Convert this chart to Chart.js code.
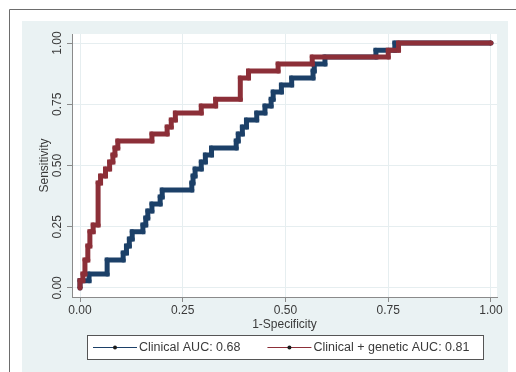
<!DOCTYPE html>
<html>
<head>
<meta charset="utf-8">
<script src="https://cdn.jsdelivr.net/npm/chart.js@4.4.1/dist/chart.umd.min.js"></script>
<style>
  html, body { margin: 0; padding: 0; background: #fff; }
  #wrap { width: 516px; height: 372px; }
</style>
</head>
<body>
<div id="wrap"><canvas id="rocChart" width="516" height="372"></canvas></div>
<script>
// ==============================
// ROC data
// ==============================
const seriesLabels = ["Clinical AUC: 0.68", "Clinical + genetic AUC: 0.81"];
const tickValues = [0, 0.25, 0.5, 0.75, 1];
const xTitle = "1-Specificity";
const yTitle = "Sensitivity";

const fprClinical = [0, 0, 0.022, 0.022, 0.066, 0.066, 0.105, 0.105, 0.113, 0.113, 0.12, 0.12,
    0.127, 0.127, 0.153, 0.153, 0.16, 0.16, 0.165, 0.165, 0.175, 0.175, 0.195, 0.195, 0.2, 0.2,
    0.272, 0.272, 0.275, 0.275, 0.28, 0.28, 0.295, 0.295, 0.305, 0.305, 0.32, 0.32, 0.38, 0.38,
    0.385, 0.385, 0.395, 0.395, 0.405, 0.405, 0.43, 0.43, 0.45, 0.45, 0.465, 0.465, 0.47, 0.47,
    0.49, 0.49, 0.515, 0.515, 0.567, 0.567, 0.57, 0.57, 0.596, 0.596, 0.72, 0.72, 0.766, 0.766, 1];
const sensClinical = [0, 0.029, 0.029, 0.057, 0.057, 0.114, 0.114, 0.143, 0.143, 0.171, 0.171, 0.2,
    0.2, 0.229, 0.229, 0.257, 0.257, 0.286, 0.286, 0.314, 0.314, 0.343, 0.343, 0.371, 0.371, 0.4,
    0.4, 0.429, 0.429, 0.457, 0.457, 0.486, 0.486, 0.514, 0.514, 0.543, 0.543, 0.571, 0.571, 0.6,
    0.6, 0.629, 0.629, 0.657, 0.657, 0.686, 0.686, 0.714, 0.714, 0.743, 0.743, 0.771, 0.771, 0.8,
    0.8, 0.829, 0.829, 0.857, 0.857, 0.886, 0.886, 0.914, 0.914, 0.943, 0.943, 0.971, 0.971, 1, 1];

const fprGenetic = [0, 0, 0.007, 0.007, 0.012, 0.012, 0.019, 0.019, 0.024, 0.024, 0.032, 0.032,
    0.044, 0.044, 0.05, 0.05, 0.062, 0.062, 0.072, 0.072, 0.08, 0.08, 0.085, 0.085, 0.092, 0.092,
    0.175, 0.175, 0.212, 0.212, 0.222, 0.222, 0.232, 0.232, 0.295, 0.295, 0.33, 0.33, 0.39, 0.39,
    0.41, 0.41, 0.482, 0.482, 0.565, 0.565, 0.75, 0.75, 0.775, 0.775, 1];
const sensGenetic = [0, 0.029, 0.029, 0.057, 0.057, 0.114, 0.114, 0.171, 0.171, 0.229, 0.229, 0.257,
    0.257, 0.429, 0.429, 0.457, 0.457, 0.486, 0.486, 0.514, 0.514, 0.543, 0.543, 0.571, 0.571, 0.6,
    0.6, 0.629, 0.629, 0.657, 0.657, 0.686, 0.686, 0.714, 0.714, 0.743, 0.743, 0.771, 0.771, 0.857,
    0.857, 0.886, 0.886, 0.914, 0.914, 0.943, 0.943, 0.971, 0.971, 1, 1];

const NAVY = "#1c4068";
const MAROON = "#8c2f38";
const FONT = "'Liberation Sans', Arial, sans-serif";

function toPoints(xs, ys) {
    return xs.map((x, i) => ({ x: x, y: ys[i] }));
}

// ==============================
// Background: frame, grey-blue panel, white plot area
// ==============================
const backgroundPlugin = {
    id: "stataBackground",
    beforeDraw(chart) {
        const ctx = chart.ctx;
        const area = chart.chartArea;
        ctx.save();
        ctx.fillStyle = "#ffffff";
        ctx.fillRect(0, 0, chart.width, chart.height);
        ctx.fillStyle = "#eaf2f3";
        ctx.fillRect(22, 21, 486, chart.height - 21);
        ctx.fillStyle = "#ffffff";
        ctx.fillRect(area.left, area.top, area.right - area.left, area.bottom - area.top);
        ctx.strokeStyle = "#6d6d6d";
        ctx.lineWidth = 1;
        ctx.beginPath();
        ctx.moveTo(9.5, chart.height);
        ctx.lineTo(9.5, 9.5);
        ctx.lineTo(chart.width, 9.5);
        ctx.stroke();
        ctx.restore();
    }
};

// ==============================
// Legend box: line - dot - line samples
// ==============================
const legendPlugin = {
    id: "stataLegend",
    afterDraw(chart) {
        const ctx = chart.ctx;
        const boxLeft = 87, boxTop = 335, boxW = 396, boxH = 24;
        const midY = boxTop + boxH / 2 + 0.5;
        ctx.save();
        ctx.fillStyle = "#ffffff";
        ctx.fillRect(boxLeft, boxTop, boxW, boxH);
        ctx.strokeStyle = "#555";
        ctx.lineWidth = 1;
        ctx.strokeRect(boxLeft + 0.5, boxTop + 0.5, boxW, boxH);

        ctx.font = "12.5px " + FONT;
        ctx.textBaseline = "middle";
        ctx.textAlign = "left";
        let x = 93;
        chart.data.datasets.forEach(ds => {
            ctx.strokeStyle = ds.borderColor;
            ctx.lineWidth = 1;
            ctx.beginPath();
            ctx.moveTo(x, midY);
            ctx.lineTo(x + 44, midY);
            ctx.stroke();
            ctx.fillStyle = "#1b1b1b";
            ctx.beginPath();
            ctx.arc(x + 22, midY, 2, 0, Math.PI * 2);
            ctx.fill();
            ctx.fillStyle = "#3a3a3a";
            ctx.fillText(ds.label, x + 46, midY);
            x += 46 + ctx.measureText(ds.label).width + 27;
        });
        ctx.restore();
    }
};

const chartCanvas = document.getElementById("rocChart");

new Chart(chartCanvas, {
    type: "scatter",
    data: {
        datasets: [
            {
                label: seriesLabels[0],
                data: toPoints(fprClinical, sensClinical),
                showLine: true,
                borderColor: NAVY,
                backgroundColor: NAVY,
                borderWidth: 5,
                pointRadius: 2.5,
                pointBorderColor: NAVY,
                pointBorderWidth: 0,
                order: 2
            },
            {
                label: seriesLabels[1],
                data: toPoints(fprGenetic, sensGenetic),
                showLine: true,
                borderColor: MAROON,
                backgroundColor: MAROON,
                borderWidth: 5,
                pointRadius: 2.5,
                pointBorderColor: MAROON,
                pointBorderWidth: 0,
                order: 1
            }
        ]
    },
    options: {
        responsive: false,
        animation: false,
        layout: {
            padding: { left: 0, right: 19, top: 34, bottom: 39 }
        },
        plugins: {
            legend: { display: false },
            tooltip: { enabled: false }
        },
        scales: {
            x: {
                type: "linear",
                min: -0.0195,
                max: 1.0146,
                afterBuildTicks: scale => {
                    scale.ticks = tickValues.map(v => ({ value: v }));
                },
                afterFit: scale => { scale.height = 36; },
                ticks: {
                    padding: 1,
                    color: "#3a3a3a",
                    font: { family: FONT, size: 12 },
                    callback: v => Number(v).toFixed(2)
                },
                grid: {
                    color: "#e6eef0",
                    tickColor: "#8a8a8a",
                    tickLength: 5
                },
                border: { display: true, color: "#8a8a8a" },
                title: {
                    display: true,
                    text: xTitle,
                    color: "#3a3a3a",
                    font: { family: FONT, size: 12 },
                    padding: { top: 0, bottom: 1 }
                }
            },
            y: {
                type: "linear",
                min: -0.037,
                max: 1.037,
                afterBuildTicks: scale => {
                    scale.ticks = tickValues.map(v => ({ value: v }));
                },
                afterFit: scale => { scale.width = 72; },
                ticks: {
                    minRotation: 90,
                    maxRotation: 90,
                    crossAlign: "center",
                    padding: -2,
                    color: "#3a3a3a",
                    font: { family: FONT, size: 12 },
                    callback: v => Number(v).toFixed(2)
                },
                grid: {
                    color: "#e6eef0",
                    tickColor: "#8a8a8a",
                    tickLength: 5
                },
                border: { display: true, color: "#8a8a8a" },
                title: {
                    display: true,
                    text: yTitle,
                    color: "#3a3a3a",
                    font: { family: FONT, size: 12 },
                    padding: { top: 37, bottom: 0 }
                }
            }
        }
    },
    plugins: [backgroundPlugin, legendPlugin]
});
</script>
</body>
</html>
